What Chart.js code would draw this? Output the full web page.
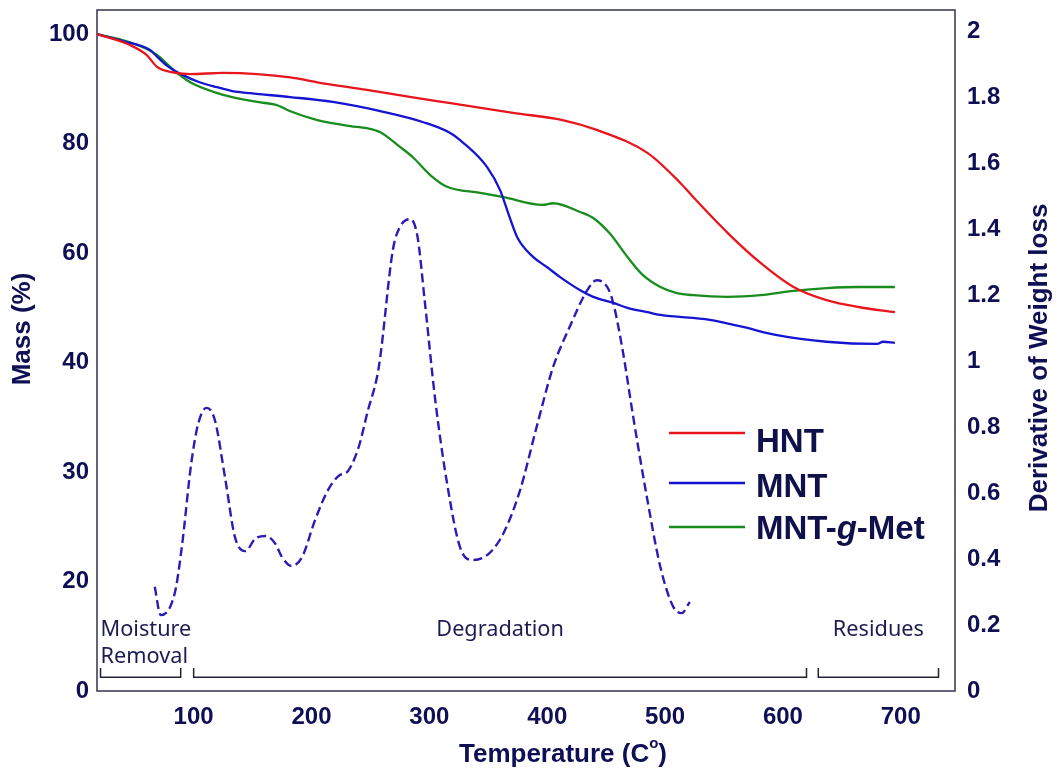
<!DOCTYPE html>
<html>
<head>
<meta charset="utf-8">
<script src="https://cdn.jsdelivr.net/npm/chart.js@4.4.1/dist/chart.umd.min.js"></script>
<style>
  html, body { margin: 0; padding: 0; background: #ffffff; }
  canvas { display: block; }
</style>
</head>
<body>
<canvas id="tga" width="1059" height="774"></canvas>
<script>
// Thermogravimetric curves (mass %, left axis) and derivative of weight loss (right axis)
const hntTemp = [18, 46, 60, 69, 80, 97, 125, 154, 182, 205, 247, 290, 318, 371, 413, 442, 485, 513, 524, 553, 581, 609, 637, 665, 695];
const hntMass = [100, 98.0, 96.2, 94.0, 93.1, 92.7, 92.9, 92.7, 92.1, 91.2, 89.8, 88.3, 87.4, 85.6, 84.3, 82.5, 78.3, 72.8, 70.2, 63.7, 58.2, 53.8, 51.4, 50.1, 49.2];

const mntTemp = [18, 40, 63, 66, 77, 91, 105, 120, 133, 148, 182, 218, 261, 295, 318, 329, 349, 360, 368, 375, 388, 400, 411, 428, 439, 456, 468, 485, 496, 538, 566, 595, 637, 680, 685, 695];
const mntMass = [100, 98.7, 97.1, 96.5, 94.3, 92.5, 91.2, 90.3, 89.6, 89.2, 88.5, 87.6, 85.8, 83.9, 81.9, 80.1, 75.7, 71.5, 66.6, 62.7, 59.3, 57.4, 55.6, 53.2, 52.0, 50.9, 50.0, 49.2, 48.7, 47.8, 46.5, 45.0, 43.8, 43.4, 43.8, 43.6];

const metTemp = [18, 46, 69, 83, 97, 125, 154, 171, 182, 205, 233, 247, 258, 275, 286, 301, 315, 343, 363, 396, 405, 428, 439, 453, 468, 481, 496, 510, 524, 553, 581, 609, 637, 665, 695];
const metMass = [100, 98.5, 96.2, 93.4, 91.2, 88.9, 87.6, 87.0, 85.9, 84.3, 83.2, 82.8, 82.1, 79.4, 77.5, 74.2, 72.1, 71.0, 70.2, 68.8, 69.1, 67.5, 66.4, 63.6, 59.3, 56.0, 53.8, 52.7, 52.3, 52.0, 52.3, 53.1, 53.6, 53.8, 53.8];

const dtgTemp  = [67, 72, 84, 90, 98, 104, 111, 118, 127, 135, 144, 152, 161, 169, 175, 183, 192, 203, 214, 223, 231, 240, 248, 255, 258, 269, 275, 284, 290, 296, 305, 315, 326, 337, 351, 363, 377, 391, 405, 419, 434, 442, 451, 456, 464, 473, 485, 496, 507, 514, 521];
const dtgValue = [0.316, 0.230, 0.297, 0.437, 0.691, 0.812, 0.858, 0.821, 0.639, 0.467, 0.424, 0.461, 0.470, 0.448, 0.406, 0.379, 0.406, 0.518, 0.609, 0.652, 0.667, 0.739, 0.852, 0.942, 1.003, 1.336, 1.406, 1.430, 1.376, 1.185, 0.882, 0.630, 0.436, 0.397, 0.418, 0.479, 0.609, 0.800, 0.982, 1.103, 1.215, 1.245, 1.224, 1.176, 1.033, 0.830, 0.579, 0.376, 0.255, 0.236, 0.270];

// Axis ticks (the mass axis is compressed below 40 %)
const tempTicks = [100, 200, 300, 400, 500, 600, 700];
const massTickPos = [-20, 0, 20, 40, 60, 80, 100];
const massTickLabels = ['0', '20', '30', '40', '60', '80', '100'];
const dtgTicks = [0, 0.2, 0.4, 0.6, 0.8, 1, 1.2, 1.4, 1.6, 1.8, 2];
const dtgTickLabels = ['0', '0.2', '0.4', '0.6', '0.8', '1', '1.2', '1.4', '1.6', '1.8', '2'];

// Temperature stages marked under the curves
const stages = [
  { lines: ['Moisture', 'Removal'], from: 21, to: 89, align: 'left' },
  { lines: ['Degradation'], from: 100, to: 620, align: 'center' },
  { lines: ['Residues'], from: 630, to: 732, align: 'center' }
];

const legendItems = [
  { parts: [['HNT', false]], color: '#e8161c' },
  { parts: [['MNT', false]], color: '#1414d2' },
  { parts: [['MNT-', false], ['g', true], ['-Met', false]], color: '#198c1e' }
];

const NAVY = '#0f0f55';
const TEXT = '#1c1c55';

function pts(xs, ys) { return xs.map((x, i) => ({ x: x, y: ys[i] })); }

const decorations = {
  id: 'decorations',
  beforeDatasetsDraw(chart) {
    const { ctx, chartArea: a } = chart;
    ctx.save();
    ctx.strokeStyle = '#33334d';
    ctx.lineWidth = 1.5;
    ctx.strokeRect(a.left, a.top, a.right - a.left, a.bottom - a.top);
    ctx.restore();
  },
  afterDraw(chart) {
    const { ctx, scales } = chart;
    const xs = scales.x, yr = scales.yDtg;
    ctx.save();

    // stage brackets and captions
    ctx.strokeStyle = '#222233';
    ctx.lineWidth = 1.5;
    ctx.fillStyle = TEXT;
    ctx.font = '21.7px "Noto Sans"';
    ctx.textBaseline = 'middle';
    const yLine = yr.getPixelForValue(0.042);
    const yTip = yr.getPixelForValue(0.07);
    stages.forEach(s => {
      const x0 = xs.getPixelForValue(s.from), x1 = xs.getPixelForValue(s.to);
      ctx.beginPath();
      ctx.moveTo(x0, yTip); ctx.lineTo(x0, yLine); ctx.lineTo(x1, yLine); ctx.lineTo(x1, yTip);
      ctx.stroke();
      s.lines.forEach((t, i) => {
        const y = yr.getPixelForValue(0.185) + i * 27;
        if (s.align === 'left') { ctx.textAlign = 'left'; ctx.fillText(t, x0, y); }
        else { ctx.textAlign = 'center'; ctx.fillText(t, (x0 + x1) / 2, y); }
      });
    });

    // legend
    ctx.textAlign = 'left';
    const lx0 = 669, lx1 = 745, tx = 756;
    const lineY = [433, 483, 527];
    const textY = [443, 488, 530];
    legendItems.forEach((it, i) => {
      ctx.strokeStyle = it.color;
      ctx.lineWidth = 2.3;
      ctx.beginPath(); ctx.moveTo(lx0, lineY[i]); ctx.lineTo(lx1, lineY[i]); ctx.stroke();
      let x = tx;
      ctx.fillStyle = '#10104a';
      it.parts.forEach(([t, ital]) => {
        ctx.font = (ital ? 'italic ' : '') + 'bold 33px "Liberation Sans"';
        ctx.fillText(t, x, textY[i]);
        x += ctx.measureText(t).width;
      });
    });

    // axis titles
    ctx.fillStyle = NAVY;
    ctx.font = 'bold 26px "Liberation Sans"';
    // x title with superscript degree mark
    const main = 'Temperature (C';
    const wMain = ctx.measureText(main).width;
    ctx.font = 'bold 15px "Liberation Sans"';
    const wSup = ctx.measureText('o').width;
    ctx.font = 'bold 26px "Liberation Sans"';
    const wEnd = ctx.measureText(')').width;
    let xt = 563 - (wMain + wSup + wEnd) / 2;
    ctx.fillText(main, xt, 755);
    xt += wMain;
    ctx.font = 'bold 15px "Liberation Sans"';
    ctx.fillText('o', xt, 744);
    xt += wSup;
    ctx.font = 'bold 26px "Liberation Sans"';
    ctx.fillText(')', xt, 755);

    ctx.textAlign = 'center';
    ctx.save();
    ctx.translate(23, 329);
    ctx.rotate(-Math.PI / 2);
    ctx.fillText('Mass (%)', 0, 0);
    ctx.restore();
    ctx.save();
    ctx.translate(1040, 358);
    ctx.rotate(-Math.PI / 2);
    ctx.fillText('Derivative of Weight loss', 0, 0);
    ctx.restore();

    ctx.restore();
  }
};

const tickFont = { family: '"Liberation Sans"', size: 24, weight: 'bold' };

function fixVertical(width) {
  return s => { s.width = width; s.paddingTop = 0; s.paddingBottom = 0; };
}

new Chart(document.getElementById('tga'), {
  type: 'line',
  data: {
    datasets: [
      { label: 'HNT', data: pts(hntTemp, hntMass), yAxisID: 'yMass', borderColor: '#e8161c', borderWidth: 2.3 },
      { label: 'MNT', data: pts(mntTemp, mntMass), yAxisID: 'yMass', borderColor: '#1414d2', borderWidth: 2.3 },
      { label: 'MNT-g-Met', data: pts(metTemp, metMass), yAxisID: 'yMass', borderColor: '#198c1e', borderWidth: 2.3 },
      { label: 'DTG', data: pts(dtgTemp, dtgValue), yAxisID: 'yDtg', borderColor: '#2a1cb4', borderWidth: 2.4, borderDash: [9, 4.5] }
    ]
  },
  options: {
    responsive: false,
    animation: false,
    layout: { autoPadding: false, padding: { top: 10, left: 0, right: 0, bottom: 0 } },
    elements: {
      point: { radius: 0 },
      line: { cubicInterpolationMode: 'monotone', fill: false }
    },
    plugins: { legend: { display: false }, tooltip: { enabled: false }, title: { display: false } },
    scales: {
      x: {
        type: 'linear', min: 18, max: 746,
        grid: { display: false, drawTicks: false },
        border: { display: false },
        afterBuildTicks: s => { s.ticks = tempTicks.map(v => ({ value: v })); },
        afterFit: s => { s.height = 83; s.paddingLeft = 0; s.paddingRight = 0; },
        ticks: { font: tickFont, color: NAVY, padding: 12, maxRotation: 0 }
      },
      yMass: {
        type: 'linear', position: 'left', min: -20, max: 104.4,
        grid: { display: false, drawTicks: false },
        border: { display: false },
        afterBuildTicks: s => { s.ticks = massTickPos.map(v => ({ value: v })); },
        afterFit: fixVertical(97),
        ticks: {
          font: tickFont, color: NAVY, padding: 8,
          callback: v => massTickLabels[massTickPos.indexOf(v)]
        }
      },
      yDtg: {
        type: 'linear', position: 'right', min: 0, max: 2.064,
        grid: { display: false, drawTicks: false },
        border: { display: false },
        afterBuildTicks: s => { s.ticks = dtgTicks.map(v => ({ value: v })); },
        afterFit: fixVertical(104),
        ticks: {
          font: tickFont, color: NAVY, padding: 12,
          callback: (v, i) => dtgTickLabels[i]
        }
      }
    }
  },
  plugins: [decorations]
});
</script>
</body>
</html>
